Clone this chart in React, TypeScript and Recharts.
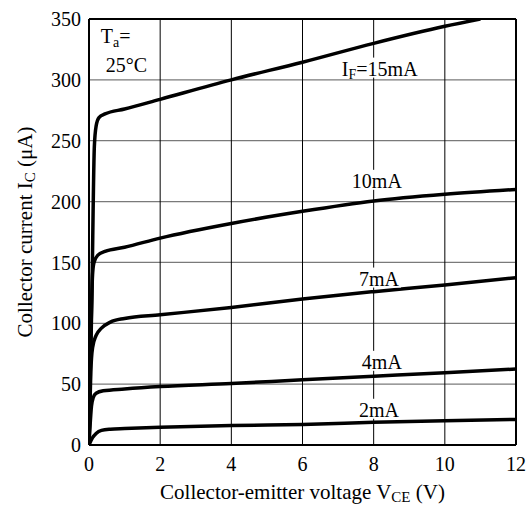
import React from 'react';
import { LineChart, Line, XAxis, YAxis, CartesianGrid, ReferenceLine, ReferenceDot } from 'recharts';

const xTicks = [0, 2, 4, 6, 8, 10, 12];
const yTicks = [0, 50, 100, 150, 200, 250, 300, 350];

const v15 = [0, 0.08, 0.15, 0.2, 0.28, 0.45, 1, 2, 4, 6, 8, 10, 11];
const i15 = [0, 120, 245, 262, 269, 272, 276, 284, 300, 314.5, 330, 344, 350];

const v10 = [0, 0.1, 0.14, 0.25, 0.45, 1, 2, 4, 6, 8, 10, 12];
const i10 = [0, 140, 150, 156, 159, 162.5, 170, 182, 192, 200.5, 206, 210];

const v7 = [0, 0.05, 0.1, 0.2, 0.35, 0.6, 1, 2, 4, 6, 8, 10, 12];
const i7 = [0, 60, 80, 90, 96, 101, 104, 107, 113, 120, 126, 131.5, 137.5];

const v4 = [0, 0.07, 0.12, 0.2, 0.4, 1, 2, 4, 6, 8, 10, 12];
const i4 = [0, 32, 39, 42.5, 44.5, 46, 48, 50.5, 53.6, 56.5, 59.4, 62.4];

const v2 = [0, 0.1, 0.2, 0.35, 0.6, 1, 2, 4, 6, 8, 10, 12];
const i2 = [0, 6, 9.5, 12, 13, 13.5, 14.6, 16, 16.8, 18.6, 20, 21];

const labelMain = ['I', '10mA', '7mA', '4mA', '2mA'];
const labelSub = ['F', '', '', '', ''];
const labelTail = ['=15mA', '', '', '', ''];
const labelV = [8.17, 8.09, 8.15, 8.23, 8.15];
const labelI = [303.5, 211.3, 131, 62.6, 23.2];

const zip = (xs: number[], ys: number[]) => xs.map((x, k) => ({ x, y: ys[k] }));
const series = [zip(v15, i15), zip(v10, i10), zip(v7, i7), zip(v4, i4), zip(v2, i2)];

const FONT = '"Liberation Serif", "Times New Roman", Times, serif';
const FS = 20;
const SUB = 14;

const charW: Record<string, number> = {
  '0': 0.5, '1': 0.5, '2': 0.5, '3': 0.5, '4': 0.5, '5': 0.5, '6': 0.5, '7': 0.5, '8': 0.5, '9': 0.5,
  m: 0.778, A: 0.722, I: 0.333, '=': 0.564, F: 0.556,
};
const textW = (s: string, fs: number) => s.split('').reduce((a, c) => a + (charW[c] ?? 0.5) * fs, 0);

const CurveLabel = ({ cx, cy, main, sub, tail }: any) => {
  const w = textW(main, FS) + textW(sub, SUB) + textW(tail, FS) + 4;
  return (
    <g>
      <rect x={cx - w / 2} y={cy - 18} width={w} height={20} fill="#fff" />
      <text x={cx} y={cy} textAnchor="middle" fontFamily={FONT} fontSize={FS} fill="#000">
        <tspan>{main}</tspan>
        {sub ? <tspan fontSize={SUB} dy={3}>{sub}</tspan> : null}
        {tail ? <tspan dy={sub ? -3 : 0}>{tail}</tspan> : null}
      </text>
    </g>
  );
};

const TempLabel = ({ cx, cy }: any) => (
  <text fontFamily={FONT} fontSize={FS} fill="#000">
    <tspan x={cx} y={cy}>T</tspan>
    <tspan fontSize={SUB} dy={4}>a</tspan>
    <tspan dy={-4}>=</tspan>
    <tspan x={cx + 5} y={cy + 29}>25°C</tspan>
  </text>
);

const XTitle = ({ viewBox }: any) => {
  const cx = viewBox.x + viewBox.width / 2;
  return (
    <text x={cx} y={499} textAnchor="middle" fontFamily={FONT} fontSize={21} fill="#000">
      <tspan>Collector-emitter voltage V</tspan>
      <tspan fontSize={15} dy={3}>CE</tspan>
      <tspan dy={-3}> (V)</tspan>
    </text>
  );
};

const YTitle = () => (
  <text
    x={0}
    y={0}
    transform="translate(31.5,232) rotate(-90)"
    textAnchor="middle"
    fontFamily={FONT}
    fontSize={21}
    fill="#000"
  >
    <tspan>Collector current I</tspan>
    <tspan fontSize={15} dy={3}>C</tspan>
    <tspan dy={-3}> (μA)</tspan>
  </text>
);

export default function App() {
  return (
    <div style={{ position: 'absolute', left: 0, top: 0, width: 532, height: 506, background: '#fff' }}>
      <LineChart width={532} height={506} margin={{ top: 19, right: 16, left: 29, bottom: 1 }}>
        <CartesianGrid vertical={false} stroke="#7a7a7a" strokeWidth={1.2} />
        <CartesianGrid horizontal={false} stroke="#000" strokeWidth={1} />
        <XAxis
          type="number"
          dataKey="x"
          domain={[0, 12]}
          ticks={xTicks}
          interval={0}
          allowDataOverflow
          height={60}
          tickLine={false}
          tickSize={0}
          tickMargin={12}
          axisLine={{ stroke: '#000', strokeWidth: 2 }}
          tick={{ fill: '#000', fontSize: FS, fontFamily: FONT }}
          label={{ content: (p: any) => <XTitle {...p} /> }}
        />
        <YAxis
          type="number"
          dataKey="y"
          domain={[0, 350]}
          ticks={yTicks}
          interval={0}
          allowDataOverflow
          width={60}
          tickLine={false}
          tickSize={0}
          tickMargin={8}
          axisLine={{ stroke: '#000', strokeWidth: 2 }}
          tick={{ fill: '#000', fontSize: FS, fontFamily: FONT }}
          label={{ content: () => <YTitle /> }}
        />
        <ReferenceLine y={350} stroke="#000" strokeWidth={2} />
        <ReferenceLine x={12} stroke="#000" strokeWidth={2} />
        {labelMain.map((m, k) => (
          <ReferenceDot
            key={'l' + k}
            x={labelV[k]}
            y={labelI[k]}
            r={0}
            shape={(p: any) => <CurveLabel cx={p.cx} cy={p.cy} main={m} sub={labelSub[k]} tail={labelTail[k]} />}
          />
        ))}
        <ReferenceDot x={0.33} y={330} r={0} shape={(p: any) => <TempLabel cx={p.cx} cy={p.cy} />} />
        {series.map((d, k) => (
          <Line
            key={'s' + k}
            data={d}
            dataKey="y"
            type="monotone"
            stroke="#000"
            strokeWidth={3.5}
            dot={false}
            activeDot={false}
            isAnimationActive={false}
          />
        ))}
      </LineChart>
    </div>
  );
}
